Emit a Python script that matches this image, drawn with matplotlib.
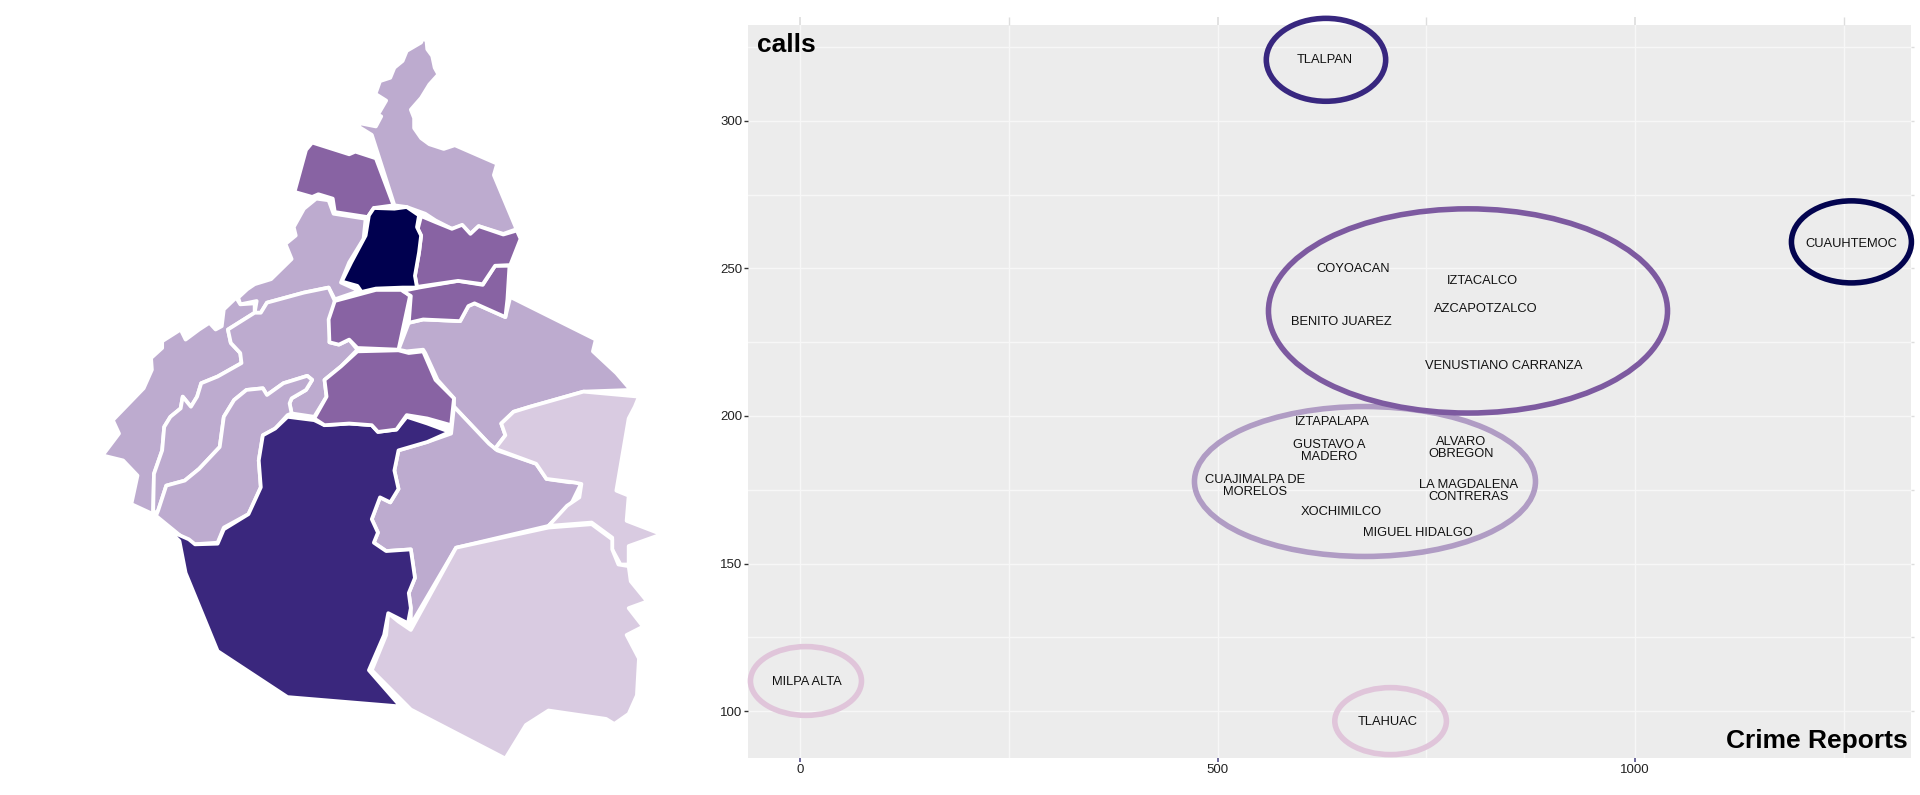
import matplotlib
matplotlib.use("Agg")
import matplotlib.pyplot as plt
from matplotlib.patches import Ellipse, Polygon

plt.rcParams['font.family'] = ['Liberation Sans', 'DejaVu Sans']

W, H = 1920, 795

# ---------- scatter data ----------
names = ["TLALPAN", "CUAUHTEMOC", "COYOACAN", "IZTACALCO", "AZCAPOTZALCO",
         "BENITO JUAREZ", "VENUSTIANO CARRANZA", "IZTAPALAPA", "GUSTAVO A\nMADERO",
         "ALVARO\nOBREGON", "CUAJIMALPA DE\nMORELOS", "LA MAGDALENA\nCONTRERAS",
         "XOCHIMILCO", "MIGUEL HIDALGO", "MILPA ALTA", "TLAHUAC"]
crime_reports = [628, 1259, 662, 817, 821, 648, 842, 637, 633, 791, 545, 800, 648, 740, 8, 703]
calls = [321.5, 259, 250.5, 246.4, 236.8, 232.7, 217.7, 198.6, 189, 190, 177, 175.4, 168.3, 161, 110.5, 97]

# cluster rings: centre x, centre y, width, height (data units)
ring_x = [676.3, 6.7, 707, 799.7, 629.6, 1259]
ring_y = [177.8, 110.2, 96.6, 235.6, 320.7, 259]
ring_w = [408.5, 133, 133.7, 478, 143, 143.7]
ring_h = [50.8, 23.3, 22.7, 69.2, 28.1, 27.8]
ring_colors = ["#b09cc4", "#e0c5da", "#e0c5da", "#7d5aa0", "#38277f", "#03044f"]

x_major = [0, 500, 1000]
x_minor = [250, 750, 1250]
y_major = [100, 150, 200, 250, 300]
y_minor = [125, 175, 225, 275, 325]

# ---------- map outlines (traced map units) ----------
gustavo = [(838,65),(848,68),(850,95),(862,115),(868,150),(877,170),(855,200),(835,240),(810,275),(818,300),
           (818,330),(835,360),(855,378),(890,392),(917,381),(1020,436),(1012,470),(1065,625),(1065,632),(1035,645),
           (975,622),(955,645),(935,620),(910,630),(870,605),(845,585),(800,565),(770,560),(715,350),(682,325),
           (688,316),(725,325),(738,295),(730,290),(750,248),(724,228),(735,190),(760,180),(770,150),(790,130),
           (800,100),(835,75)]
azcapotzalco = [(570,373),(660,408),(675,400),(725,420),(768,560),(720,568),(705,595),(625,580),(620,540),(585,527),
                (570,535),(527,520),(555,395)]
cuauhtemoc = [(720,568),(770,570),(800,565),(830,590),(825,625),(835,650),(830,700),(820,770),(825,805),(790,805),
              (725,808),(690,818),(680,800),(642,787),(665,730),(700,650),(708,590)]
venustiano = [(835,592),(870,610),(910,630),(935,618),(955,645),(975,622),(1035,647),(1068,635),(1077,660),(1052,738),
              (1015,740),(985,795),(925,785),(825,803),(820,770),(830,700),(835,650),(827,630)]
iztacalco = [(1050,740),(1015,740),(985,797),(925,785),(830,805),(790,815),(810,830),(805,910),(840,900),(930,905),
             (950,860),(965,852),(1040,893),(1045,840)]
benito = [(625,845),(725,812),(790,812),(808,830),(780,990),(680,985),(660,960),(635,975),(612,968),(610,900)]
iztapalapa = [(1052,833),(1260,960),(1253,995),(1310,1060),(1345,1110),(1230,1115),(1100,1160),(1060,1175),(1030,1210),
              (1040,1245),(1015,1285),(1000,1270),(915,1160),(915,1135),(875,1080),(845,1000),(840,990),(800,995),
              (780,990),(805,910),(840,900),(930,905),(950,860),(965,852),(1040,893)]
hidalgo = [(580,540),(610,545),(622,585),(700,600),(695,660),(660,730),(640,790),(685,815),(625,840),(610,805),
           (550,820),(460,850),(445,880),(430,880),(435,845),(395,855),(390,835),(412,810),(430,795),(470,780),
           (520,720),(505,675),(530,650),(525,625),(550,570)]
cuajimalpa = [(385,835),(395,855),(430,852),(430,880),(365,930),(372,970),(395,1000),(398,1030),(340,1070),(300,1090),
              (290,1130),(275,1160),(255,1130),(250,1165),(225,1190),(210,1220),(205,1290),(185,1360),(183,1480),
              (130,1450),(145,1365),(110,1320),(60,1305),(100,1240),(85,1200),(160,1105),(180,1050),(178,1015),
              (205,985),(205,965),(250,930),(262,960),(295,930),(320,910),(335,930),(350,920),(355,870)]
obregon = [(625,845),(612,968),(635,975),(660,960),(680,990),(640,1040),(600,1080),(605,1130),(575,1190),(520,1180),
           (515,1150),(520,1135),(555,1110),(570,1080),(558,1068),(500,1090),(460,1125),(450,1105),(410,1110),
           (380,1140),(355,1190),(345,1280),(295,1345),(260,1380),(215,1395),(195,1470),(183,1480),(185,1360),
           (205,1290),(210,1220),(225,1190),(250,1165),(255,1130),(275,1160),(290,1130),(300,1090),(340,1070),
           (398,1030),(395,1000),(372,970),(365,930),(430,880),(445,880),(460,850),(550,820),(610,805)]
contreras = [(410,1110),(450,1105),(460,1125),(500,1090),(558,1068),(570,1080),(555,1110),(520,1135),(515,1150),
             (520,1180),(510,1185),(480,1225),(450,1245),(440,1320),(445,1400),(415,1480),(355,1520),(340,1565),
             (280,1570),(250,1545),(190,1485),(195,1470),(215,1395),(260,1380),(295,1345),(345,1280),(355,1190),(380,1140)]
tlalpan = [(510,1190),(575,1200),(600,1215),(660,1210),(715,1215),(730,1235),(775,1228),(800,1190),(850,1210),(905,1235),
           (850,1265),(780,1290),(770,1350),(780,1405),(760,1445),(735,1430),(715,1495),(730,1535),(720,1565),(750,1590),
           (810,1585),(820,1670),(805,1715),(810,1760),(803,1805),(755,1775),(745,1840),(708,1945),(785,2053),(510,2025),
           (340,1888),(262,1655),(247,1560),(220,1528),(270,1555),(285,1570),(340,1568),(355,1525),(415,1480),(445,1400),
           (440,1320),(450,1245),(480,1225)]
coyoacan = [(680,995),(780,992),(805,1000),(840,995),(870,1080),(915,1135),(908,1215),(850,1195),(800,1185),(775,1228),
            (730,1235),(715,1215),(660,1210),(600,1215),(575,1195),(605,1130),(600,1080),(640,1040)]
xochimilco = [(908,1240),(850,1265),(780,1290),(770,1350),(780,1405),(760,1445),(735,1430),(715,1495),(730,1535),(720,1565),
              (750,1590),(810,1585),(820,1670),(805,1715),(810,1760),(810,1810),(920,1580),(1145,1515),(1200,1450),
              (1220,1400),(1225,1385),(1195,1385),(1140,1375),(1115,1330),(1020,1290),(1000,1270),(915,1160)]
tlahuac = [(1365,1130),(1230,1115),(1100,1160),(1060,1175),(1030,1210),(1040,1245),(1015,1285),(1115,1330),(1140,1375),
           (1205,1385),(1225,1390),(1220,1430),(1190,1455),(1145,1515),(1250,1505),(1300,1550),(1300,1585),(1320,1630),
           (1340,1630),(1340,1575),(1420,1540),(1335,1500),(1340,1425),(1310,1410),(1340,1195),(1355,1160)]
milpa = [(1145,1520),(1250,1510),(1300,1555),(1300,1585),(1315,1630),(1340,1635),(1345,1680),(1385,1740),(1340,1760),
         (1375,1815),(1335,1840),(1365,1910),(1360,2020),(1340,2075),(1305,2105),(1285,2090),(1145,2065),(1090,2108),
         (1040,2208),(810,2062),(715,1945),(750,1840),(755,1775),(780,1800),(810,1825),(920,1580)]

c_navy, c_dark, c_mid, c_soft, c_pale = "#00004f", "#3a277d", "#8863a3", "#bdabcf", "#d9cbe1"
map_regions = [(gustavo, c_soft), (hidalgo, c_soft), (cuajimalpa, c_soft), (obregon, c_soft), (contreras, c_soft),
               (iztapalapa, c_soft), (xochimilco, c_soft), (tlahuac, c_pale), (milpa, c_pale), (tlalpan, c_dark),
               (coyoacan, c_mid), (benito, c_mid), (iztacalco, c_mid), (venustiano, c_mid), (azcapotzalco, c_mid),
               (cuauhtemoc, c_navy)]

# ---------- figure ----------
fig = plt.figure(figsize=(W / 100, H / 100), dpi=100, facecolor="white")

def place(x0, y0, x1, y1):
    return [x0 / W, 1 - y1 / H, (x1 - x0) / W, (y1 - y0) / H]

# map panel
mp = fig.add_axes(place(80, 20, 720, 795))
mp.set_xlim(5.1, 1562.2)
mp.set_ylim(2316.7, 7.9)
mp.axis("off")
for verts, col in map_regions:
    mp.add_patch(Polygon(verts, closed=True, facecolor=col, edgecolor="white", linewidth=2.7, joinstyle="round"))

# scatter panel
ax = fig.add_axes(place(748.2, 24.7, 1910.7, 757.7))
ax.set_facecolor("#ececec")
ax.set_xlim(-62.5, 1330)
ax.set_ylim(84.2, 332.6)
for s in ax.spines.values():
    s.set_visible(False)
ax.set_xticks(x_major)
ax.set_xticks(x_minor, minor=True)
ax.set_yticks(y_major)
ax.set_yticks(y_minor, minor=True)
ax.grid(True, which="both", color="#f7f7f7", linewidth=1.0)
ax.set_axisbelow(True)
ax.tick_params(axis="x", which="major", bottom=True, top=True, length=3, width=1.2, color="#55508a", pad=1.5, labelsize=9.5, labelcolor="#222222")
ax.tick_params(axis="x", which="minor", bottom=False, top=True, length=6, width=1.0, color="#dddddd")
ax.tick_params(axis="y", which="major", left=True, right=True, length=3, width=1.0, color="#333333", pad=1, labelsize=9.5, labelcolor="#222222")
ax.tick_params(axis="y", which="minor", left=False, right=True, length=2, width=1.0, color="#dddddd")
for t in ax.xaxis.get_major_ticks():
    t.tick2line.set_markeredgecolor("#dddddd")
    t.tick2line.set_markersize(6)
for t in ax.yaxis.get_major_ticks():
    t.tick2line.set_markeredgecolor("#dddddd")
    t.tick2line.set_markersize(2)

for cx, cy, w, h, col in zip(ring_x, ring_y, ring_w, ring_h, ring_colors):
    ax.add_patch(Ellipse((cx, cy), w, h, facecolor="none", edgecolor=col, linewidth=4.0, clip_on=False, zorder=3))

for name, x, y in zip(names, crime_reports, calls):
    ax.annotate(name, (x, y), xytext=(0, -1.5), textcoords="offset points", ha="center", va="center",
                fontsize=9.3, color="#111111", linespacing=1.0, zorder=4)

ax.text(-52, 325.8, "calls", ha="left", va="center", fontsize=19, fontweight="bold", color="black", zorder=5)
ax.text(1327, 89.7, "Crime Reports", ha="right", va="center", fontsize=19, fontweight="bold", color="black", zorder=5)

fig.savefig("out.png", dpi=100, facecolor="white")
